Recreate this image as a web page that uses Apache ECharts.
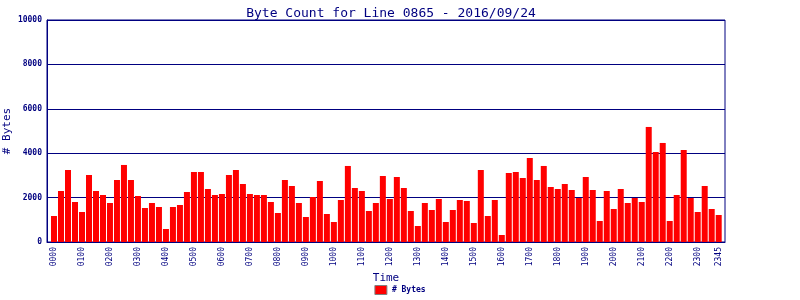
<!DOCTYPE html>
<html>
<head>
<meta charset="utf-8">
<script src="https://cdn.jsdelivr.net/npm/echarts@6/dist/echarts.min.js"></script>
<style>html,body{margin:0;padding:0;background:#fff}#c{width:800px;height:300px}</style>
</head>
<body>
<div id="c"></div>
<script>
var times = [];
for (var h = 0; h < 24; h++) { for (var m = 0; m < 60; m += 15) { times.push((h < 10 ? '0' : '') + h + (m < 10 ? '0' : '') + m); } }
var bytes = [
 1170, 2298, 3244, 1802, 1352, 3019, 2298, 2118, 1757, 2794, 3470, 2794,
 2073, 1532, 1757, 1577, 586, 1577, 1667, 2253, 3154, 3154, 2388, 2118,
 2163, 3019, 3244, 2613, 2163, 2118, 2118, 1802, 1307, 2794, 2523, 1757,
 1127, 2028, 2749, 1262, 901, 1893, 3425, 2433, 2298, 1397, 1757, 2974,
 1938, 2929, 2433, 1397, 721, 1757, 1442, 1938, 901, 1442, 1893, 1847,
 856, 3244, 1170, 1893, 315, 3109, 3154, 2884, 3785, 2794, 3425, 2478,
 2388, 2613, 2343, 1983, 2929, 2343, 946, 2298, 1487, 2388, 1757, 1983,
 1802, 5182, 4055, 4461, 946, 2118, 4145, 1983, 1352, 2523, 1487, 1217
];
var yTicks = [0, 2000, 4000, 6000, 8000, 10000];
var navy = '#000080';
var chart = echarts.init(document.getElementById('c'));
chart.setOption({
  animation: false,
  title: {
    text: 'Byte Count for Line 0865 - 2016/09/24',
    left: 386, top: 2, textAlign: 'center',
    textStyle: { color: navy, fontFamily: 'DejaVu Sans Mono', fontSize: 13, fontWeight: 'normal' }
  },
  legend: {
    data: ['# Bytes'], bottom: 0, left: 'center',
    icon: 'rect', itemWidth: 12, itemHeight: 9, itemGap: 4,
    itemStyle: { color: '#ff0000', borderColor: '#808080', borderWidth: 1 },
    textStyle: { color: navy, fontFamily: 'DejaVu Sans Mono', fontSize: 8, fontWeight: 'bold' }
  },
  grid: {
    left: 47, right: 75, top: 20, bottom: 58,
    outerBoundsMode: 'none', containLabel: false,
    show: true, borderColor: navy, borderWidth: 1, backgroundColor: 'transparent'
  },
  xAxis: {
    type: 'value', min: -1, max: 95.9, interval: 1,
    name: 'Time', nameLocation: 'middle', nameGap: 31, nameMoveOverlap: false,
    nameTextStyle: { color: navy, fontFamily: 'DejaVu Sans Mono', fontSize: 11 },
    axisLine: { show: true, onZero: false, lineStyle: { color: navy, width: 1 } },
    axisTick: { show: false },
    splitLine: { show: false },
    axisLabel: {
      rotate: 90, margin: 5, color: navy, fontFamily: 'DejaVu Sans Mono', fontSize: 8,
      showMinLabel: true, showMaxLabel: false,
      formatter: function (v) {
        var i = Math.round(v);
        if (Math.abs(v - i) > 0.01 || i < 0 || i > 95) return '';
        return (i % 4 === 0 || i === 95) ? times[i] : '';
      }
    }
  },
  yAxis: {
    type: 'value', min: yTicks[0], max: yTicks[yTicks.length - 1], interval: 2000,
    name: '# Bytes', nameLocation: 'middle', nameGap: 34, nameMoveOverlap: false,
    nameTextStyle: { color: navy, fontFamily: 'DejaVu Sans Mono', fontSize: 11 },
    axisLine: { show: true, onZero: false, lineStyle: { color: navy, width: 1 } },
    axisTick: { show: false },
    splitLine: { show: true, lineStyle: { color: navy, width: 1 } },
    axisLabel: {
      margin: 5, color: navy, fontFamily: 'DejaVu Sans Mono', fontSize: 8, fontWeight: 'bold',
      formatter: function (v) { return String(v); }
    }
  },
  series: [{
    name: '# Bytes', type: 'bar', barWidth: 6,
    itemStyle: { color: '#ff0000' },
    data: bytes.map(function (v, i) { return [i, v]; })
  }]
});
</script>
</body>
</html>
